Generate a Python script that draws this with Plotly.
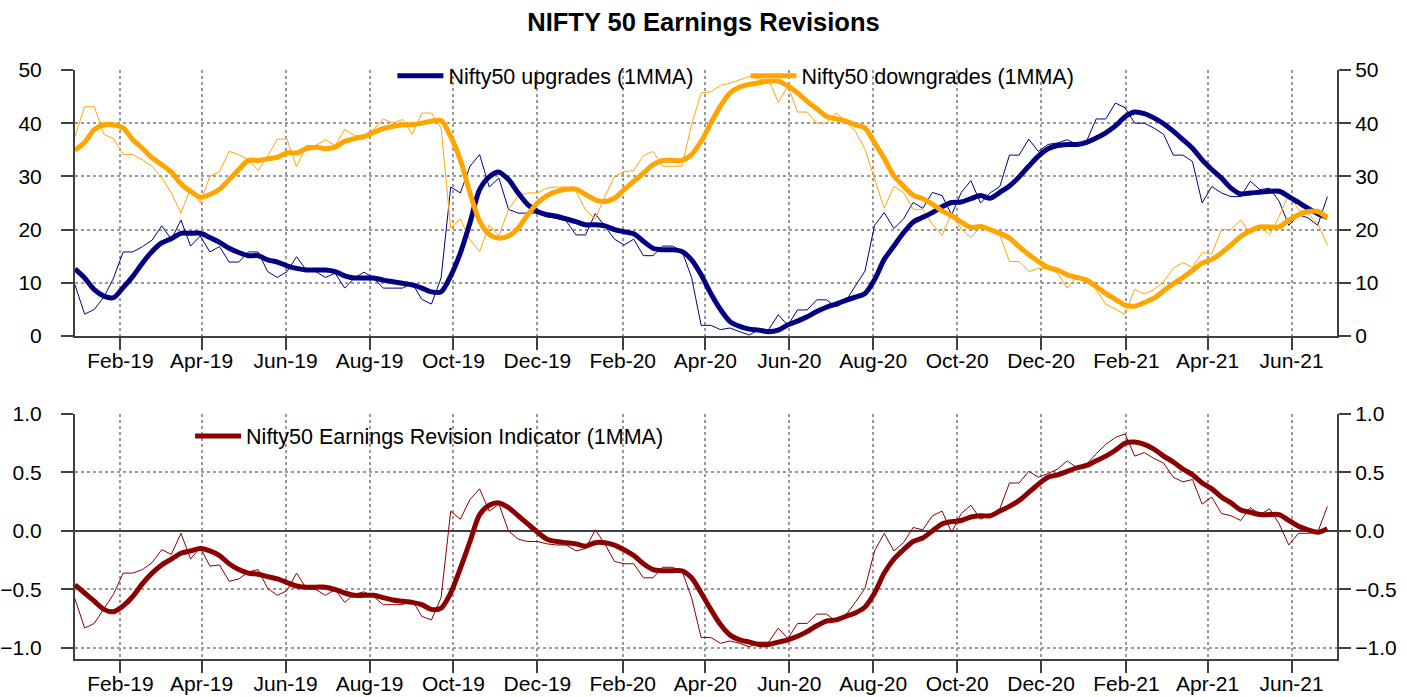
import pandas as pd
import plotly.graph_objects as go

# ---------------- data (weekly) ----------------
dates = pd.date_range("2018-12-30", periods=131, freq="7D")

upgrades = [9.6, 4.1, 5.0, 7.3, 10.9, 15.8, 15.8, 16.8, 18.0, 20.7,
            18.2, 21.8, 16.9, 18.8, 15.8, 16.8, 13.9, 13.9, 15.8, 15.8,
            12.1, 11.0, 12.1, 14.9, 12.4, 12.1, 11.0, 11.8, 9.0, 10.9,
            12.0, 10.9, 9.0, 9.0, 9.0, 9.9, 6.9, 6.0, 10.9, 28.0,
            26.9, 31.9, 34.1, 28.0, 29.7, 23.8, 23.1, 23.1, 23.1, 22.4,
            22.1, 21.6, 19.0, 19.0, 23.0, 20.6, 18.2, 17.1, 18.2, 15.1,
            15.1, 16.9, 16.9, 16.0, 11.0, 2.0, 2.0, 1.2, 1.5, 0.8,
            0.2, 1.2, 1.2, 4.0, 2.0, 4.9, 4.9, 6.8, 6.8, 5.5,
            6.5, 9.4, 12.2, 20.8, 23.2, 20.2, 22.0, 25.1, 24.0, 27.0,
            26.4, 22.8, 27.0, 29.2, 25.0, 26.9, 28.1, 34.0, 34.0, 37.0,
            34.7, 36.0, 36.3, 36.9, 36.0, 36.6, 40.8, 40.8, 43.8, 42.9,
            40.0, 40.0, 39.1, 37.9, 34.0, 34.0, 32.8, 25.0, 28.1, 26.9,
            26.2, 26.2, 29.1, 27.5, 27.8, 25.3, 20.8, 22.8, 22.2, 20.8,
            26.2]

upgrades_1mma = [12.6, 10.9, 8.7, 7.5, 7.2, 9.1, 11.2, 13.7, 15.9, 17.5,
                 18.3, 19.3, 19.3, 19.3, 18.5, 17.6, 16.5, 15.7, 15.1, 15.1,
                 14.3, 13.9, 13.2, 12.7, 12.4, 12.4, 12.4, 12.1, 11.3, 10.9,
                 10.9, 10.9, 10.5, 10.2, 9.9, 9.6, 9.0, 8.3, 8.3, 11.3,
                 15.6, 21.3, 27.5, 29.9, 30.8, 29.4, 26.9, 24.7, 23.4, 22.8,
                 22.5, 22.0, 21.5, 20.9, 20.9, 20.7, 20.0, 19.6, 19.2, 17.8,
                 16.5, 16.2, 16.2, 15.9, 14.3, 11.5, 8.0, 5.0, 2.7, 1.8,
                 1.3, 1.1, 0.8, 1.1, 2.1, 2.8, 3.6, 4.6, 5.4, 6.0,
                 6.7, 7.3, 8.0, 10.6, 14.4, 16.9, 19.4, 21.4, 22.3, 23.2,
                 24.3, 25.1, 25.2, 25.8, 26.4, 25.9, 27.0, 28.2, 29.9, 31.9,
                 33.8, 35.2, 35.8, 36.0, 36.0, 36.4, 37.2, 38.2, 39.5, 41.2,
                 42.1, 41.8, 41.0, 39.9, 38.5, 36.9, 35.3, 33.1, 31.3, 29.7,
                 27.8, 26.7, 26.9, 27.0, 27.2, 27.2, 26.2, 25.1, 24.0, 23.0,
                 22.3]

downgrades = [37.5, 43.1, 43.1, 37.9, 37.1, 34.1, 34.1, 33.1, 31.9, 29.7,
              26.9, 23.1, 27.8, 25.0, 30.0, 30.9, 34.7, 34.1, 33.1, 31.1,
              33.8, 37.0, 37.0, 31.8, 35.8, 35.8, 36.9, 35.8, 38.8, 37.7,
              37.7, 38.8, 40.8, 40.0, 40.7, 37.9, 41.9, 41.9, 39.1, 20.3,
              22.0, 18.1, 15.9, 20.9, 18.8, 23.8, 26.3, 26.9, 26.9, 27.8,
              28.0, 28.0, 27.2, 23.7, 22.0, 26.2, 30.0, 30.9, 31.1, 33.9,
              34.7, 31.9, 31.9, 31.9, 39.7, 45.7, 45.9, 47.1, 47.5, 48.2,
              48.8, 48.3, 48.2, 43.9, 47.0, 42.1, 42.1, 40.0, 40.0, 41.9,
              40.4, 38.5, 35.2, 29.5, 24.0, 28.1, 27.0, 23.8, 23.8, 21.0,
              18.9, 23.2, 20.1, 18.5, 20.5, 20.2, 19.0, 14.0, 14.0, 12.1,
              12.7, 12.7, 11.8, 9.0, 11.2, 10.9, 8.7, 6.0, 5.0, 4.1,
              8.8, 7.9, 8.7, 10.2, 12.7, 13.8, 12.9, 15.7, 15.4, 20.0,
              20.0, 21.8, 19.2, 20.6, 19.0, 22.5, 26.7, 23.7, 23.0, 21.2,
              17.1]

downgrades_1mma = [34.9, 36.4, 38.8, 39.7, 39.7, 39.1, 36.9, 35.3, 33.5, 32.2,
                   30.8, 28.6, 27.2, 26.1, 26.6, 27.6, 29.4, 31.3, 33.0, 33.0,
                   33.3, 33.6, 34.4, 34.4, 35.2, 35.5, 35.2, 35.5, 36.6, 37.1,
                   37.5, 38.3, 39.0, 39.4, 39.7, 39.7, 40.0, 40.4, 40.5, 37.5,
                   33.1, 26.9, 21.6, 19.1, 18.4, 18.8, 20.3, 22.8, 25.0, 26.4,
                   27.2, 27.6, 27.6, 26.6, 25.6, 25.3, 25.9, 27.5, 29.1, 30.6,
                   32.2, 33.0, 33.0, 33.0, 34.1, 36.6, 40.0, 43.2, 45.7, 46.8,
                   47.3, 47.6, 47.9, 47.9, 47.0, 45.7, 44.1, 42.7, 41.3, 40.8,
                   40.4, 39.7, 39.1, 36.3, 33.4, 30.1, 28.2, 26.5, 25.8, 24.8,
                   23.5, 22.6, 21.4, 20.4, 20.6, 20.0, 19.3, 18.4, 16.8, 15.3,
                   14.0, 12.9, 12.4, 11.5, 11.0, 10.5, 9.3, 8.0, 6.9, 5.8,
                   5.6, 6.3, 7.1, 8.5, 9.8, 11.0, 12.3, 13.7, 14.4, 15.6,
                   17.1, 18.7, 19.8, 20.5, 20.5, 20.5, 21.8, 22.8, 23.4, 23.4,
                   22.2]

revision = [-0.58, -0.83, -0.79, -0.66, -0.54, -0.36, -0.36, -0.33, -0.27, -0.16,
            -0.20, -0.02, -0.24, -0.14, -0.30, -0.29, -0.43, -0.41, -0.35, -0.33,
            -0.49, -0.55, -0.51, -0.36, -0.49, -0.50, -0.55, -0.50, -0.61, -0.54,
            -0.52, -0.56, -0.63, -0.63, -0.63, -0.59, -0.73, -0.76, -0.57, 0.17,
            0.10, 0.27, 0.36, 0.17, 0.23, 0.00, -0.07, -0.09, -0.09, -0.11,
            -0.12, -0.12, -0.17, -0.15, 0.01, -0.11, -0.26, -0.28, -0.28, -0.40,
            -0.40, -0.31, -0.31, -0.34, -0.57, -0.91, -0.91, -0.96, -0.94, -0.96,
            -0.99, -0.95, -0.95, -0.83, -0.92, -0.79, -0.79, -0.71, -0.71, -0.77,
            -0.72, -0.61, -0.49, -0.17, -0.02, -0.17, -0.10, 0.03, 0.01, 0.13,
            0.17, -0.01, 0.15, 0.22, 0.10, 0.14, 0.19, 0.41, 0.41, 0.51,
            0.46, 0.49, 0.53, 0.60, 0.54, 0.57, 0.66, 0.74, 0.80, 0.83,
            0.64, 0.67, 0.62, 0.58, 0.46, 0.42, 0.44, 0.23, 0.29, 0.15,
            0.13, 0.09, 0.20, 0.14, 0.19, 0.06, -0.12, -0.02, -0.02, -0.01,
            0.21]

revision_1mma = [-0.46, -0.53, -0.60, -0.67, -0.69, -0.64, -0.56, -0.45, -0.36, -0.29,
                 -0.24, -0.19, -0.17, -0.15, -0.17, -0.21, -0.28, -0.33, -0.36, -0.37,
                 -0.39, -0.41, -0.44, -0.47, -0.48, -0.48, -0.48, -0.50, -0.53, -0.55,
                 -0.55, -0.55, -0.57, -0.59, -0.60, -0.61, -0.63, -0.67, -0.66, -0.53,
                 -0.32, -0.09, 0.14, 0.22, 0.24, 0.20, 0.13, 0.06, -0.01, -0.07,
                 -0.09, -0.10, -0.11, -0.13, -0.10, -0.10, -0.12, -0.16, -0.21, -0.28,
                 -0.33, -0.34, -0.34, -0.34, -0.40, -0.53, -0.67, -0.80, -0.89, -0.93,
                 -0.95, -0.97, -0.97, -0.95, -0.93, -0.90, -0.86, -0.81, -0.77, -0.76,
                 -0.73, -0.70, -0.65, -0.53, -0.36, -0.24, -0.16, -0.09, -0.06, 0.00,
                 0.06, 0.08, 0.09, 0.12, 0.13, 0.13, 0.17, 0.21, 0.26, 0.33,
                 0.40, 0.46, 0.48, 0.51, 0.54, 0.56, 0.60, 0.64, 0.69, 0.75,
                 0.76, 0.74, 0.70, 0.64, 0.59, 0.53, 0.48, 0.41, 0.36, 0.29,
                 0.24, 0.18, 0.16, 0.14, 0.14, 0.14, 0.09, 0.04, 0.01, -0.01,
                 0.02]

top_ticks = [0, 10, 20, 30, 40, 50]
bottom_ticks = [-1.0, -0.5, 0.0, 0.5, 1.0]

# ---------------- styling ----------------
FONT = "Liberation Sans, Arial, sans-serif"
NAVY = "#000080"
ORANGE = "#FFA500"
DARKRED = "#8B0000"
AX = "#404040"
GRID = "#9a9a9a"
X_RANGE = ["2018-12-30", "2021-07-04"]

fig = go.Figure()

fig.add_trace(go.Scatter(x=dates, y=upgrades, mode="lines", showlegend=False,
                         line=dict(color=NAVY, width=1), xaxis="x", yaxis="y"))
fig.add_trace(go.Scatter(x=dates, y=downgrades, mode="lines", showlegend=False,
                         line=dict(color=ORANGE, width=1), xaxis="x", yaxis="y"))
fig.add_trace(go.Scatter(x=dates, y=upgrades_1mma, mode="lines",
                         name="Nifty50 upgrades (1MMA)", legend="legend",
                         line=dict(color=NAVY, width=5, shape="spline", smoothing=0.8),
                         xaxis="x", yaxis="y"))
fig.add_trace(go.Scatter(x=dates, y=downgrades_1mma, mode="lines",
                         name="Nifty50 downgrades (1MMA)", legend="legend",
                         line=dict(color=ORANGE, width=5, shape="spline", smoothing=0.8),
                         xaxis="x", yaxis="y"))
fig.add_trace(go.Scatter(x=dates, y=revision, mode="lines", showlegend=False,
                         line=dict(color=DARKRED, width=1), xaxis="x2", yaxis="y2"))
fig.add_trace(go.Scatter(x=dates, y=revision_1mma, mode="lines",
                         name="Nifty50 Earnings Revision Indicator (1MMA)", legend="legend2",
                         line=dict(color=DARKRED, width=5, shape="spline", smoothing=0.8),
                         xaxis="x2", yaxis="y2"))

tickfont = dict(family=FONT, size=21, color="#000000")

xcommon = dict(type="date", range=X_RANGE, tick0="2019-02-01", dtick="M2",
               tickformat="%b-%y", ticks="outside", ticklen=12, tickwidth=2,
               tickcolor=AX, showline=True, linecolor=AX, linewidth=2,
               showgrid=True, gridcolor=GRID, gridwidth=1.5, griddash="dot",
               tickfont=tickfont, zeroline=False, automargin=False,
               ticklabelstandoff=-7)
yleft = dict(ticks="outside", ticklen=12, tickwidth=2, tickcolor=AX,
             showline=True, linecolor=AX, linewidth=2, tickfont=tickfont,
             ticklabelstandoff=15, automargin=False)
yright = dict(ticks="outside", ticklen=12, tickwidth=2, tickcolor=AX,
              showline=True, linecolor=AX, linewidth=2, tickfont=tickfont,
              ticklabelstandoff=0, automargin=False)

top_dom = [0.5484, 1.0]
bot_dom = [0.0, 0.416]

fig.update_layout(
    width=1407, height=697,
    margin=dict(l=75, r=70, t=70, b=38, autoexpand=False),
    paper_bgcolor="white", plot_bgcolor="white",
    font=dict(family=FONT, size=21, color="#000000"),
    title=dict(text="<b>NIFTY 50 Earnings Revisions</b>", x=0.5, xanchor="center",
               y=1 - 22 / 697, yanchor="middle", yref="container",
               font=dict(family=FONT, size=25.5, color="#000000")),
    xaxis=dict(domain=[0, 1], anchor="y", **xcommon),
    xaxis2=dict(domain=[0, 1], anchor="y2", **xcommon),
    yaxis=dict(domain=top_dom, anchor="x", range=[0, 50], tickvals=top_ticks,
               side="left", showgrid=True, gridcolor=GRID, gridwidth=1.5,
               griddash="dot", zeroline=False, **yleft),
    yaxis3=dict(overlaying="y", anchor="x", side="right", range=[0, 50],
                tickvals=top_ticks, showgrid=False, zeroline=False, **yright),
    yaxis2=dict(domain=bot_dom, anchor="x2", range=[-1.094, 1.0], tickvals=bottom_ticks,
                tickformat=".1f", side="left", showgrid=True, gridcolor=GRID,
                gridwidth=1.5, griddash="dot", zeroline=True, zerolinecolor=AX,
                zerolinewidth=2, **yleft),
    yaxis4=dict(overlaying="y2", anchor="x2", side="right", range=[-1.094, 1.0],
                tickvals=bottom_ticks, tickformat=".1f", showgrid=False,
                zeroline=False, **yright),
    legend=dict(orientation="h", x=0.2515, xanchor="left", y=0.99, yanchor="middle",
                bgcolor="rgba(0,0,0,0)", font=dict(family=FONT, size=21.5),
                entrywidth=292, entrywidthmode="pixels", itemwidth=46),
    legend2=dict(orientation="h", x=0.0912, xanchor="left", y=0.3786, yanchor="middle",
                 bgcolor="rgba(0,0,0,0)", font=dict(family=FONT, size=21.5), itemwidth=46),
)

# invisible traces so the right-hand axes render their labels
fig.add_trace(go.Scatter(x=[dates[0]], y=[None], xaxis="x", yaxis="y3",
                         showlegend=False, hoverinfo="skip"))
fig.add_trace(go.Scatter(x=[dates[0]], y=[None], xaxis="x2", yaxis="y4",
                         showlegend=False, hoverinfo="skip"))

fig.write_html("out.html", config={"displayModeBar": False},
               post_script="document.body.style.margin='0px';")
